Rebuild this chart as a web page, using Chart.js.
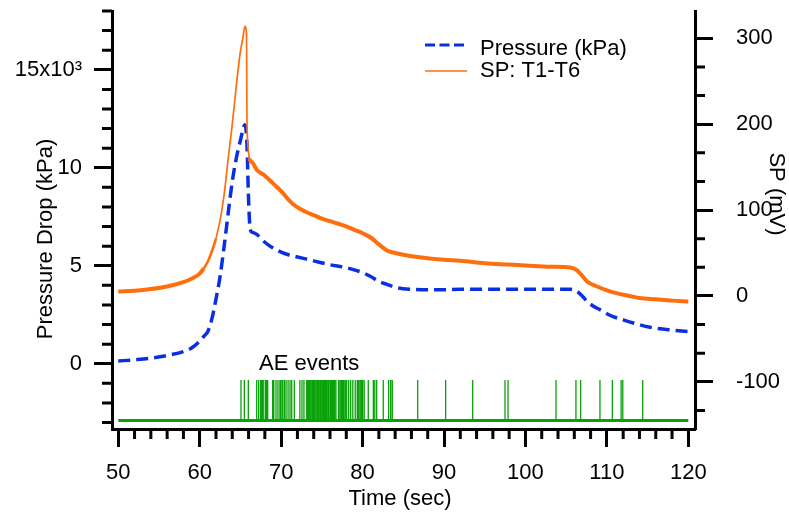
<!DOCTYPE html>
<html><head><meta charset="utf-8">
<script src="https://cdn.jsdelivr.net/npm/chart.js@4.4.1/dist/chart.umd.min.js"></script>
<style>html,body{margin:0;padding:0;background:#fff}#wrap{width:789px;height:514px;position:relative}</style>
</head><body><div id="wrap"><canvas id="c" width="789" height="514"></canvas></div>
<script>
// ---- data ----
const spTime = [50,52,54,56,58,59,60,60.5,61,61.5,62,62.5,63,63.5,64,64.5,65,65.3,65.55,65.75,65.8,65.95,66.1,66.5,67,68,69,70,71,72,73,74,75,76,77,78,79,80,81,82,83,84,85,87,90,92,95,98,100,103,105.5,106.3,107,107.6,108.8,110,111.3,113,114,116,118,120];
const spValues = [5,6,8,11,16,20,26,32,40,52,67,88,118,160,200,245,285,300,314,304,208,172,160,155,147,140,131,122,111,103,98,94,90,87,84,81,77,73,68,60,53,50,48,45,42,41,38,36.5,35.5,34,33,30,23,16.5,11,6.5,3,-0.5,-2.5,-4,-5.5,-6.5];
const pressureTime = [50,52,54,56,58,59,60,60.5,61,61.5,62,62.5,63,63.3,63.5,64,64.5,65,65.56,65.8,66.0,66.2,66.5,67,68,69,70,71,72,73,74,76,78,80,81,82,83,84,86,89,92,100,105.5,106.3,107,107.6,108.3,109.2,110.5,112,113.5,115.3,117.5,120];
const pressureValues = [140,200,280,420,620,800,1150,1400,1650,2300,3300,4450,6000,7000,7700,9300,10500,11400,12200,11200,8400,6850,6700,6600,6200,5900,5700,5550,5450,5350,5250,5050,4900,4650,4450,4200,4050,3900,3800,3770,3800,3800,3800,3700,3450,3170,2950,2750,2450,2240,2050,1860,1740,1640];
const aeEventTimes = [65.07,65.48,65.97,67.0,67.24,67.49,67.65,67.8,68.05,68.2,68.35,68.96,69.1,69.37,69.61,69.85,70.0,70.19,70.4,70.6,70.85,71.09,71.3,71.62,72.3,72.56,72.8,73.14,73.3,73.46,73.63,73.8,73.95,74.1,74.27,74.44,74.6,74.77,74.93,75.1,75.26,75.42,75.58,75.75,75.9,76.08,76.24,76.4,76.56,76.73,77.05,77.23,77.4,77.55,77.7,77.88,78.05,78.29,78.54,78.8,79.1,79.35,79.5,79.68,79.85,80.0,80.2,80.7,81.32,81.5,81.73,82.54,83.2,83.45,83.65,86.77,90.2,93.52,97.49,97.86,103.75,106.2,106.78,109.15,110.67,111.75,111.95,114.4];
const aeBaseline = -145;   // mV (right axis)
const aeSpikeTop = -98;    // mV (right axis)
const aeRange = [50, 120];
const xTickValues = [50,60,70,80,90,100,110,120];
const leftTickValues = [0,5000,10000,15000];
const leftTickLabels = ['0','5','10','15x10\u00B3'];
const rightTickValues = [-100,0,100,200,300];
const seriesNames = ['Pressure (kPa)','SP: T1-T6'];
const aeLabel = 'AE events';
const xTitle = 'Time (sec)';
const leftTitle = 'Pressure Drop (kPa)';
const rightTitle = 'SP (mV)';

// ---- style ----
const ORANGE = '#ff6e0c', BLUE = '#0a2fe0', GREEN = '#0aa20a';
const FAMILY = '"Liberation Sans", Arial, Helvetica, sans-serif';
const FS = 22;
Chart.defaults.font.family = FAMILY;
Chart.defaults.font.size = FS;
Chart.defaults.color = '#000';

const sp = spTime.map((t,i)=>({x:t,y:spValues[i]}));
const pressure = pressureTime.map((t,i)=>({x:t,y:pressureValues[i]}));
const spikes = [];
aeEventTimes.forEach(t=>{spikes.push({x:t,y:aeBaseline},{x:t,y:aeSpikeTop},{x:t,y:null});});
const aeBase = aeRange.map(t=>({x:t,y:aeBaseline}));

// minor tick positions
const xMinor=[]; for(let v=50; v<=120; v+=2){ if(v%10) xMinor.push(v); }
const yMinor=[]; for(let v=-3000; v<=18000; v+=1000){ if(v%5000) yMinor.push(v); }
const y2Minor=[]; for(let k=-4; k<=9; k++){ const v=k*100/3; if(k%3) y2Minor.push(v); }

function axisGrid(){ return {display:true, drawOnChartArea:false, drawTicks:true, tickLength:18, tickWidth:3, tickColor:'#000'}; }
function axisBorder(){ return {display:true, width:3, color:'#000'}; }

const minorPlugin = {
  id:'minorTicks',
  afterDraw(chart){
    const {ctx, chartArea:a, scales} = chart;
    ctx.save(); ctx.strokeStyle='#000'; ctx.lineWidth=3; ctx.lineCap='butt';
    ctx.beginPath();
    xMinor.forEach(v=>{const p=scales.x.getPixelForValue(v); ctx.moveTo(p,a.bottom); ctx.lineTo(p,a.bottom+10);});
    yMinor.forEach(v=>{const p=scales.y.getPixelForValue(v); if(p>=a.top-1&&p<=a.bottom+1){ctx.moveTo(a.left,p); ctx.lineTo(a.left-10,p);}});
    y2Minor.forEach(v=>{const p=scales.y2.getPixelForValue(v); if(p>=a.top&&p<=a.bottom){ctx.moveTo(a.right,p); ctx.lineTo(a.right+10,p);}});
    ctx.stroke();
    ctx.restore();
  }
};

const textPlugin = {
  id:'texts',
  afterDraw(chart){
    const {ctx} = chart;
    ctx.save();
    ctx.fillStyle='#000';
    ctx.font = FS+'px '+FAMILY;
    ctx.textBaseline='alphabetic';
    // legend
    ctx.lineCap='butt';
    ctx.strokeStyle=BLUE; ctx.lineWidth=3.2; ctx.setLineDash([10,4.5]);
    ctx.beginPath(); ctx.moveTo(425,45); ctx.lineTo(468,45); ctx.stroke();
    ctx.setLineDash([]);
    ctx.strokeStyle=ORANGE; ctx.lineWidth=1.5;
    ctx.beginPath(); ctx.moveTo(425,71); ctx.lineTo(467,71); ctx.stroke();
    ctx.textAlign='left';
    ctx.fillText(seriesNames[0], 480, 55);
    ctx.fillText(seriesNames[1], 480, 77);
    // AE label
    ctx.fillText(aeLabel, 259, 369.5);
    // x title
    ctx.textAlign='center';
    ctx.fillText(xTitle, 400, 505);
    // left title
    ctx.save(); ctx.translate(51.7,239); ctx.rotate(-Math.PI/2); ctx.fillText(leftTitle,0,0); ctx.restore();
    // right title
    ctx.save(); ctx.translate(770,194); ctx.rotate(Math.PI/2); ctx.fillText(rightTitle,0,0); ctx.restore();
    ctx.restore();
  }
};

new Chart(document.getElementById('c'), {
  type:'line',
  data:{datasets:[
    {label:seriesNames[1], data:sp, yAxisID:'y2', borderColor:ORANGE, backgroundColor:ORANGE, pointRadius:0, cubicInterpolationMode:'monotone',
      borderWidth:4, segment:{borderWidth:c=>{const x0=c.p0.parsed.x, x1=c.p1.parsed.x; if(x0>=62 && x1<=66.3) return 1.7; if(x0>=60.5 && x1<=62) return 2.6; return 4;}}},
    {label:seriesNames[0], data:pressure, yAxisID:'y', borderColor:BLUE, backgroundColor:BLUE, borderWidth:3.5, borderDash:[12,6], pointRadius:0, cubicInterpolationMode:'monotone'},
    {label:aeLabel, data:spikes, yAxisID:'y2', borderColor:GREEN, borderWidth:1.3, pointRadius:0, spanGaps:false},
    {label:aeLabel+' baseline', data:aeBase, yAxisID:'y2', borderColor:GREEN, borderWidth:3, pointRadius:0}
  ]},
  options:{
    responsive:false, animation:false, events:[],
    layout:{padding:{top:11,left:0,right:0,bottom:0}},
    plugins:{legend:{display:false}, tooltip:{enabled:false}, title:{display:false}},
    scales:{
      x:{type:'linear', position:'bottom', min:49.23, max:120.82,
        afterBuildTicks(s){ s.ticks = xTickValues.map(v=>({value:v})); },
        afterFit(s){ s.height=85; s.paddingLeft=0; s.paddingRight=0; },
        ticks:{padding:13, maxRotation:0, autoSkip:false, callback:v=>String(v), font:{size:FS}},
        grid:axisGrid(), border:axisBorder()},
      y:{type:'linear', position:'left', min:-3330, max:18000,
        afterBuildTicks(s){ s.ticks = leftTickValues.map(v=>({value:v})); },
        afterFit(s){ s.width=112; s.paddingTop=0; s.paddingBottom=0; },
        ticks:{padding:12, autoSkip:false, callback:v=>{const i=leftTickValues.indexOf(v); return i>=0?leftTickLabels[i]:'';}, font:{size:FS}},
        grid:axisGrid(), border:axisBorder()},
      y2:{type:'linear', position:'right', min:-155, max:331.8,
        afterBuildTicks(s){ s.ticks = rightTickValues.map(v=>({value:v})); },
        afterFit(s){ s.width=94; s.paddingTop=0; s.paddingBottom=0; },
        ticks:{padding:23, autoSkip:false, callback:v=>String(v), font:{size:FS}},
        grid:axisGrid(), border:axisBorder()}
    }
  },
  plugins:[minorPlugin, textPlugin]
});
</script></body></html>
